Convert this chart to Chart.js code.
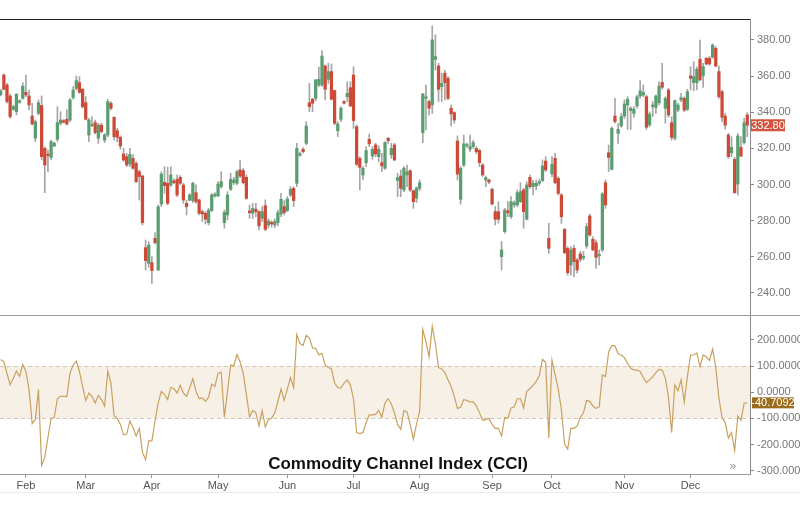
<!DOCTYPE html>
<html>
<head>
<meta charset="utf-8">
<script src="https://cdn.jsdelivr.net/npm/chart.js@4.4.0/dist/chart.umd.min.js"></script>
<style>
    body { margin: 0; background: #fff; }
    #wrap { position: relative; width: 800px; height: 516px; overflow: hidden; }
    #priceChart { position: absolute; left: 0; top: 0; }
    #cciChart { position: absolute; left: 0; top: 315px; }
</style>
</head>
<body>
<div id="wrap">
    <canvas id="priceChart" width="800" height="316"></canvas>
    <canvas id="cciChart" width="800" height="201"></canvas>
</div>
<script>
// daily candles (one entry per trading day)
const opens = [
    349.7, 360.6, 355.1, 349.0, 341.6, 340.3, 345.5, 347.7, 351.0, 349.0,
    337.9, 325.6, 339.4, 343.7, 320.0, 316.4, 315.0, 321.3, 325.0, 333.9,
    335.2, 336.1, 335.7, 348.1, 353.2, 356.4, 352.7, 345.3, 327.4, 332.5,
    334.3, 325.6, 332.9, 324.6, 327.4, 344.9, 337.2, 329.8, 326.1, 316.9,
    315.4, 311.4, 314.5, 311.7, 307.1, 304.7, 265.1, 256.4, 256.8, 270.2,
    252.7, 289.2, 301.2, 300.7, 299.7, 302.0, 302.9, 304.0, 299.7, 289.6,
    291.4, 291.1, 295.5, 291.5, 285.0, 284.1, 278.9, 285.6, 293.7, 293.7,
    298.8, 278.9, 283.2, 297.4, 301.0, 300.7, 308.1, 307.7, 304.0, 285.4,
    284.1, 286.3, 285.0, 281.3, 288.3, 277.6, 278.9, 277.6, 278.9, 283.7,
    287.8, 285.6, 294.2, 297.9, 300.7, 316.2, 319.5, 322.8, 345.3, 347.2,
    347.7, 355.1, 355.1, 365.6, 358.2, 362.5, 352.0, 329.8, 336.1, 345.9,
    348.6, 353.6, 360.6, 332.0, 314.5, 305.3, 312.1, 325.0, 315.8, 321.9,
    315.4, 312.1, 309.0, 325.6, 316.4, 321.9, 302.2, 304.7, 297.0, 305.3,
    307.7, 296.6, 292.4, 297.9, 328.7, 347.7, 345.9, 344.0, 369.3, 365.6,
    354.2, 361.6, 358.8, 342.2, 339.8, 324.1, 291.8, 310.8, 321.3, 319.5,
    321.0, 320.0, 318.8, 310.8, 302.5, 302.5, 297.4, 285.0, 285.0, 260.1,
    273.9, 285.5, 282.2, 288.7, 288.7, 290.5, 297.0, 280.8, 304.0, 298.8,
    299.2, 300.7, 302.2, 313.0, 270.2, 305.9, 314.5, 303.4, 294.2, 275.2,
    264.7, 255.5, 264.7, 258.2, 261.6, 259.4, 266.0, 282.6, 269.7, 267.8,
    260.5, 263.8, 301.0, 317.6, 308.4, 337.9, 328.3, 332.4, 337.9, 344.0,
    340.9, 339.4, 343.5, 349.0, 349.5, 348.6, 333.0, 343.1, 342.7, 345.3,
    356.5, 342.2, 352.3, 334.2, 325.6, 341.2, 346.8, 347.7, 341.6, 360.1,
    356.4, 356.4, 369.3, 360.1, 369.9, 369.9, 370.4, 375.4, 362.5, 351.4,
    337.9, 327.4, 317.6, 313.9, 300.3, 320.6, 323.2, 338.5
];
const highs = [
    352.5, 361.2, 356.0, 350.0, 344.0, 350.5, 347.0, 356.4, 360.6, 352.3,
    344.9, 335.7, 346.8, 349.0, 320.9, 319.1, 324.6, 323.5, 343.1, 340.3,
    336.0, 341.3, 347.7, 354.2, 360.1, 359.7, 353.2, 348.6, 336.6, 337.6,
    335.7, 333.9, 334.0, 328.3, 347.2, 345.9, 337.6, 331.1, 326.9, 320.0,
    317.3, 320.0, 316.4, 312.7, 308.0, 305.3, 269.3, 268.4, 260.1, 273.4,
    288.7, 307.1, 309.9, 309.5, 309.9, 303.0, 305.3, 305.0, 300.7, 291.4,
    295.0, 301.3, 299.8, 291.8, 285.9, 285.0, 286.8, 295.1, 295.5, 301.6,
    307.1, 285.9, 296.1, 306.2, 304.0, 308.0, 313.2, 309.0, 305.3, 288.7,
    289.6, 289.6, 285.6, 287.8, 291.5, 281.0, 280.0, 281.0, 285.9, 295.1,
    291.1, 293.3, 298.8, 298.8, 322.8, 318.0, 320.5, 334.8, 356.0, 347.7,
    358.2, 365.2, 374.1, 366.2, 367.1, 366.7, 352.3, 334.8, 343.1, 346.5,
    356.9, 356.9, 365.2, 333.0, 315.4, 309.9, 321.0, 328.0, 321.0, 322.8,
    321.5, 317.3, 323.7, 326.1, 322.8, 322.8, 306.2, 308.1, 309.9, 310.8,
    308.1, 297.0, 298.8, 302.5, 350.5, 355.1, 346.8, 387.8, 382.8, 367.1,
    361.6, 363.4, 359.7, 344.0, 340.3, 326.9, 309.9, 327.4, 323.0, 327.4,
    324.5, 321.0, 319.5, 311.7, 304.7, 303.0, 298.0, 287.8, 290.5, 268.4,
    286.8, 290.5, 293.3, 291.0, 297.0, 301.0, 297.9, 301.6, 305.3, 302.5,
    302.5, 303.0, 313.6, 315.4, 278.6, 315.4, 317.3, 304.4, 295.1, 275.8,
    265.6, 265.6, 266.5, 259.2, 262.9, 262.9, 278.5, 283.7, 271.2, 269.3,
    263.8, 295.5, 302.5, 321.9, 332.0, 347.7, 333.9, 339.4, 346.8, 348.6,
    343.1, 343.1, 349.5, 357.5, 355.1, 349.5, 340.3, 345.9, 349.5, 356.9,
    367.1, 348.6, 353.2, 337.6, 346.8, 344.9, 350.5, 348.6, 352.7, 365.2,
    368.0, 365.2, 380.0, 367.1, 370.4, 371.0, 377.8, 376.3, 365.6, 352.3,
    339.4, 328.3, 326.5, 315.0, 328.3, 326.5, 336.6, 339.8
];
const lows = [
    349.0, 352.3, 345.0, 336.6, 341.0, 338.5, 345.0, 347.2, 348.6, 341.3,
    332.9, 323.7, 338.5, 313.6, 295.5, 307.1, 313.6, 320.9, 323.7, 332.9,
    334.0, 332.9, 334.8, 347.2, 352.3, 350.5, 342.2, 335.7, 323.7, 332.0,
    328.0, 322.8, 328.5, 323.2, 326.5, 341.3, 324.6, 323.7, 319.5, 312.7,
    309.9, 309.9, 308.4, 301.0, 291.4, 277.6, 252.7, 254.2, 245.3, 267.1,
    252.4, 287.8, 295.1, 288.7, 298.8, 300.5, 293.3, 300.0, 289.6, 283.1,
    291.0, 290.0, 289.6, 283.2, 279.5, 278.2, 277.6, 285.0, 293.0, 293.3,
    297.9, 275.8, 280.4, 296.6, 300.0, 299.8, 304.0, 300.3, 291.8, 281.3,
    281.3, 282.2, 274.9, 279.5, 274.5, 276.0, 276.5, 276.0, 277.1, 282.2,
    283.2, 285.0, 293.3, 287.8, 298.8, 315.5, 317.5, 321.9, 340.3, 340.3,
    346.4, 354.2, 354.2, 346.8, 356.0, 346.8, 333.0, 326.5, 334.8, 344.5,
    345.9, 343.1, 331.1, 310.3, 297.0, 302.5, 309.9, 321.0, 314.0, 315.4,
    312.5, 307.1, 308.4, 322.8, 314.5, 313.2, 293.3, 293.3, 296.1, 298.8,
    296.1, 286.8, 290.0, 296.5, 323.2, 330.2, 338.5, 339.4, 363.4, 345.9,
    345.9, 346.8, 346.8, 332.4, 333.9, 302.5, 289.2, 309.9, 320.5, 318.2,
    320.0, 317.0, 309.9, 304.4, 298.8, 300.5, 288.7, 277.6, 278.6, 252.7,
    273.0, 282.2, 281.3, 287.5, 287.8, 290.0, 275.8, 280.4, 297.9, 294.2,
    297.0, 299.5, 301.6, 307.1, 261.9, 304.4, 300.3, 294.2, 278.5, 261.6,
    249.9, 249.9, 249.0, 250.9, 257.3, 258.2, 264.7, 271.5, 263.4, 253.6,
    255.5, 262.9, 286.8, 307.1, 308.1, 333.9, 322.8, 331.7, 336.6, 330.5,
    330.5, 337.2, 342.2, 347.7, 348.6, 330.5, 332.0, 337.6, 339.4, 344.0,
    352.7, 333.9, 337.2, 324.6, 324.6, 340.3, 345.9, 340.3, 340.9, 352.3,
    351.9, 352.3, 357.5, 353.8, 366.2, 366.0, 369.9, 365.2, 347.7, 334.8,
    330.5, 314.5, 315.4, 295.1, 294.2, 315.4, 322.4, 326.5
];
const closes = [
    351.9, 352.7, 345.9, 337.6, 343.1, 349.9, 346.3, 354.5, 349.6, 344.0,
    333.5, 334.8, 345.3, 315.4, 310.8, 316.0, 323.7, 322.8, 334.3, 335.7,
    334.5, 333.5, 346.8, 352.3, 357.5, 351.0, 343.1, 336.1, 335.7, 333.3,
    328.7, 332.9, 329.3, 327.4, 345.9, 342.2, 326.5, 326.1, 321.3, 313.6,
    310.8, 316.7, 309.0, 301.6, 304.4, 278.9, 257.9, 266.5, 252.4, 267.8,
    287.8, 305.8, 299.4, 289.6, 305.3, 301.0, 294.2, 300.7, 291.4, 287.8,
    294.2, 300.7, 290.5, 284.1, 283.7, 280.8, 285.9, 294.2, 294.6, 300.3,
    301.6, 284.6, 294.2, 302.9, 302.5, 307.1, 304.7, 301.0, 292.4, 284.4,
    286.8, 285.0, 277.1, 285.0, 275.2, 279.8, 278.2, 279.5, 284.4, 291.8,
    284.4, 292.0, 297.4, 291.1, 320.0, 316.9, 318.2, 332.4, 343.1, 345.0,
    357.9, 358.2, 371.1, 352.7, 362.5, 347.2, 333.9, 333.5, 342.2, 345.0,
    350.5, 343.5, 335.4, 311.2, 309.5, 309.0, 318.8, 322.5, 319.5, 316.9,
    319.5, 310.3, 323.2, 324.3, 320.0, 313.6, 303.8, 297.9, 309.0, 307.1,
    297.0, 290.5, 298.0, 301.0, 350.1, 348.6, 342.2, 380.0, 370.8, 352.7,
    356.0, 356.4, 347.7, 339.1, 335.7, 305.8, 309.0, 322.5, 321.9, 321.0,
    323.2, 318.2, 312.1, 305.3, 303.8, 301.4, 289.2, 280.8, 280.8, 263.8,
    285.9, 284.4, 290.5, 290.0, 295.5, 296.1, 285.0, 299.8, 298.8, 300.7,
    300.7, 301.6, 310.3, 308.1, 264.7, 311.2, 301.0, 295.1, 282.2, 262.3,
    251.2, 263.8, 257.3, 252.7, 258.6, 260.0, 276.7, 272.1, 263.8, 259.7,
    261.2, 294.8, 288.7, 315.0, 331.1, 334.8, 330.5, 337.6, 344.6, 347.2,
    342.2, 341.6, 348.6, 351.8, 351.0, 331.7, 339.0, 344.0, 349.0, 354.5,
    353.8, 347.7, 338.5, 326.1, 346.4, 344.0, 348.1, 341.2, 351.4, 358.8,
    359.7, 363.8, 357.9, 365.2, 366.7, 366.7, 377.2, 365.6, 348.6, 337.2,
    332.9, 315.4, 320.6, 295.5, 326.9, 315.8, 334.2, 332.8
];
// commodity channel index, one value per candle
const cci = [
    125, 116, 72, 28, 53, 81, 60, 106, 79, 10,
    -120, -104, 10, -280, -248, -173, -100, -97, -25, -16,
    -16, -16, 72, 104, 119, 79, 22, -32, -3, -16,
    -41, -12, -28, -53, 81, 35, -91, -100, -123, -163,
    -160, -110, -135, -167, -138, -230, -258, -186, -186, -110,
    -41, 3, -9, -28, 18, 13, -3, 26, -3, -16,
    16, 51, 3, -25, -22, -35, -19, 31, 22, 72,
    76, -95, 3, 104, 101, 144, 116, 72, -9, -95,
    -70, -79, -129, -70, -133, -104, -100, -79, -35, 12,
    -32, 13, 56, 18, 220, 186, 179, 217, 207, 169,
    167, 142, 148, 104, 94, 89, 35, 18, 16, 35,
    47, 28, -25, -154, -158, -154, -116, -87, -87, -85,
    -70, -95, -41, -25, -45, -79, -123, -142, -70, -75,
    -123, -179, -123, -72, 240, 192, 135, 252, 186, 94,
    89, 75, 47, 22, -16, -62, -58, -28, -32, -37,
    -37, -53, -79, -108, -104, -100, -123, -138, -138, -167,
    -97, -100, -60, -57, -25, -25, -60, 3, 13, 26,
    41, 64, 125, 114, -175, 123, 66, 12, -66, -198,
    -217, -138, -138, -129, -97, -79, -32, -35, -53, -62,
    -56, 66, 60, 154, 179, 177, 147, 142, 132, 110,
    91, 85, 84, 79, 56, 37, 47, 59, 75, 87,
    85, 53, -19, -154, 28, 6, 47, -37, 60, 142,
    142, 150, 97, 142, 135, 121, 164, 97, -22, -97,
    -116, -175, -154, -223, -91, -107, -42, -40.7092
];
// candle index where each month starts
const monthTicks = [8, 27, 48, 69, 91, 112, 133, 156, 175, 198, 219];
const monthNames = ["Feb", "Mar", "Apr", "May", "Jun", "Jul", "Aug", "Sep", "Oct", "Nov", "Dec"];
const priceTicks = [240, 260, 280, 300, 320, 340, 360, 380];
const cciTicks = [-300, -200, -100, 0, 100, 200];
const cciBand = [-100, 100];

Chart.defaults.font.family = "'Liberation Sans', Arial, sans-serif";
Chart.defaults.font.size = 11;
Chart.defaults.animation = false;

const upColor = "#5a9e70";
const downColor = "#cc4a37";
const xMin = -0.22, xMax = 237.87;

const wicks = closes.map((c, i) => ({ x: i, y: [lows[i], highs[i]] }));
const bodies = closes.map((c, i) => ({ x: i, y: [opens[i], c] }));
const bodyColors = closes.map((c, i) => (c >= opens[i] ? upColor : downColor));

// right axis: fixed width, no extra room reserved for half labels
const fitRight = (s) => {
    s.width = 50;
    s.paddingTop = 0;
    s.paddingBottom = 0;
};

const priceDecor = {
    id: "priceDecor",
    afterDraw(chart) {
        const ctx = chart.ctx;
        const area = chart.chartArea;
        const y = chart.scales.y;
        ctx.save();
        // top border
        ctx.strokeStyle = "#222";
        ctx.lineWidth = 1;
        ctx.beginPath();
        ctx.moveTo(0, area.top + 0.5);
        ctx.lineTo(area.right, area.top + 0.5);
        ctx.stroke();
        // pane separator
        ctx.strokeStyle = "#9a9a9a";
        ctx.beginPath();
        ctx.moveTo(0, area.bottom + 0.5);
        ctx.lineTo(800, area.bottom + 0.5);
        ctx.stroke();
        // last price tag
        const last = closes[closes.length - 1];
        const py = y.getPixelForValue(last);
        ctx.fillStyle = "#d4553f";
        ctx.fillRect(area.right + 1, py - 6, 34, 12);
        ctx.fillStyle = "#fff";
        ctx.font = "11px 'Liberation Sans', Arial";
        ctx.textAlign = "center";
        ctx.textBaseline = "middle";
        ctx.fillText(last.toFixed(2), area.right + 18, py + 0.5);
        ctx.restore();
    }
};

new Chart(document.getElementById("priceChart"), {
    type: "bar",
    data: {
        datasets: [
            {
                data: wicks,
                backgroundColor: "#a5a5a5",
                barThickness: 1,
                grouped: false,
                order: 2
            },
            {
                data: bodies,
                backgroundColor: bodyColors,
                barThickness: 2.6,
                minBarLength: 1.5,
                grouped: false,
                order: 1
            }
        ]
    },
    options: {
        responsive: false,
        layout: { padding: { top: 19, bottom: 1, left: 0, right: 0 } },
        plugins: { legend: { display: false }, tooltip: { enabled: false } },
        scales: {
            x: {
                type: "linear",
                min: xMin,
                max: xMax,
                offset: false,
                display: false
            },
            y: {
                position: "right",
                min: 227.8,
                max: 391.6,
                afterFit: fitRight,
                afterBuildTicks: (s) => { s.ticks = priceTicks.map((v) => ({ value: v })); },
                grid: { drawOnChartArea: false, tickLength: 4, color: "#8a8a8a" },
                border: { color: "#8a8a8a" },
                ticks: { color: "#777", padding: 3, callback: (v) => v.toFixed(2) }
            }
        }
    },
    plugins: [priceDecor]
});

const cciDecor = {
    id: "cciDecor",
    beforeDatasetsDraw(chart) {
        const ctx = chart.ctx;
        const area = chart.chartArea;
        const y = chart.scales.y;
        const yTop = y.getPixelForValue(cciBand[1]);
        const yBot = y.getPixelForValue(cciBand[0]);
        ctx.save();
        ctx.fillStyle = "#f6f0e7";
        ctx.fillRect(area.left, yTop, area.right - area.left, yBot - yTop);
        ctx.strokeStyle = "#d3c7b6";
        ctx.lineWidth = 1;
        ctx.setLineDash([4, 3]);
        for (const yy of [yTop, yBot]) {
            ctx.beginPath();
            ctx.moveTo(area.left, Math.round(yy) + 0.5);
            ctx.lineTo(area.right, Math.round(yy) + 0.5);
            ctx.stroke();
        }
        ctx.restore();
    },
    afterDraw(chart) {
        const ctx = chart.ctx;
        const area = chart.chartArea;
        const y = chart.scales.y;
        ctx.save();
        // bottom rule under the dates
        ctx.strokeStyle = "#ececec";
        ctx.beginPath();
        ctx.moveTo(0, 177.5);
        ctx.lineTo(800, 177.5);
        ctx.stroke();
        // title
        ctx.fillStyle = "#111";
        ctx.font = "bold 17px 'Liberation Sans', Arial";
        ctx.textAlign = "center";
        ctx.textBaseline = "alphabetic";
        ctx.fillText("Commodity Channel Index (CCI)", 398, 154);
        // scroll icon
        ctx.fillStyle = "#999";
        ctx.font = "13px 'DejaVu Sans', sans-serif";
        ctx.textBaseline = "middle";
        ctx.fillText("\u00bb", 733, 152);
        // last value tag
        const last = cci[cci.length - 1];
        const py = y.getPixelForValue(last);
        ctx.fillStyle = "#9c6b1c";
        ctx.fillRect(area.right + 2, py - 5.5, 42, 11);
        ctx.fillStyle = "#fff";
        ctx.font = "11px 'Liberation Sans', Arial";
        ctx.fillText(last.toFixed(4), area.right + 23, py + 0.5);
        ctx.restore();
    }
};

new Chart(document.getElementById("cciChart"), {
    type: "line",
    data: {
        datasets: [
            {
                data: cci.map((v, i) => ({ x: i, y: v })),
                borderColor: "#c9a15f",
                borderWidth: 1.2,
                pointRadius: 0,
                fill: false,
                tension: 0
            }
        ]
    },
    options: {
        responsive: false,
        layout: { padding: { top: 1, bottom: 0, left: 0, right: 0 } },
        plugins: { legend: { display: false }, tooltip: { enabled: false } },
        scales: {
            x: {
                type: "linear",
                min: xMin,
                max: xMax,
                afterFit: (s) => { s.height = 42; },
                afterBuildTicks: (s) => { s.ticks = monthTicks.map((v) => ({ value: v })); },
                grid: { drawOnChartArea: false, tickLength: 4, color: "#9a9a9a" },
                border: { color: "#9a9a9a" },
                ticks: {
                    color: "#555",
                    padding: 1,
                    autoSkip: false,
                    maxRotation: 0,
                    callback: (v) => monthNames[monthTicks.indexOf(v)]
                }
            },
            y: {
                position: "right",
                min: -312.5,
                max: 291,
                afterFit: fitRight,
                afterBuildTicks: (s) => { s.ticks = cciTicks.map((v) => ({ value: v })); },
                grid: { drawOnChartArea: false, tickLength: 4, color: "#8a8a8a" },
                border: { color: "#8a8a8a" },
                ticks: { color: "#777", padding: 3, callback: (v) => v.toFixed(4) }
            }
        }
    },
    plugins: [cciDecor]
});
</script>
</body>
</html>
